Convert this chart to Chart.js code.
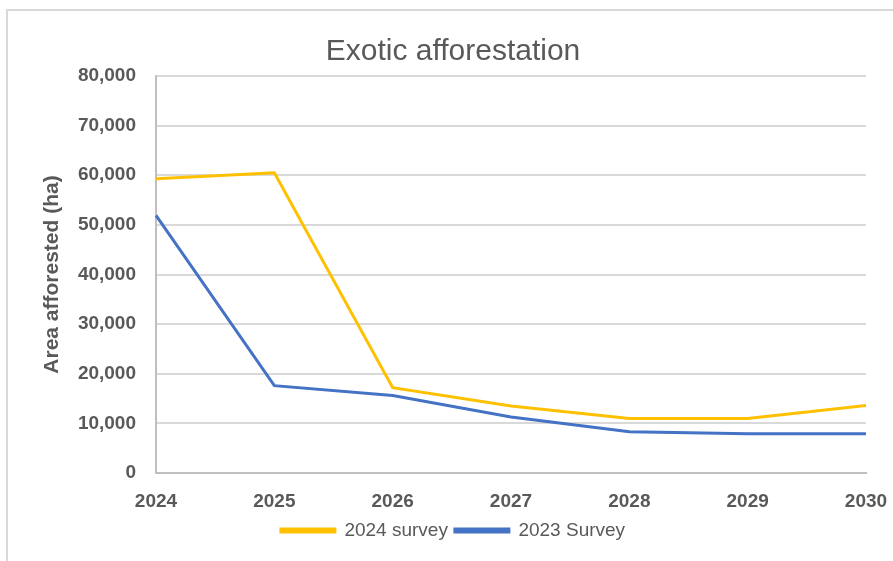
<!DOCTYPE html>
<html>
<head>
<meta charset="utf-8">
<script src="https://cdn.jsdelivr.net/npm/chart.js@4"></script>
<style>
  html, body { margin: 0; padding: 0; background: #fff; }
  #frame {
    position: absolute; left: 6px; top: 9px; width: 887px; height: 552px;
    border-top: 2px solid #d9d9d9; border-left: 2px solid #d9d9d9;
    box-sizing: border-box;
  }
  #wrap { position: absolute; left: 0; top: 0; width: 893px; height: 561px; }
</style>
</head>
<body>
<div id="frame"></div>
<div id="wrap"><canvas id="myChart"></canvas></div>
<script>
// years along the bottom
const years = ['2024', '2025', '2026', '2027', '2028', '2029', '2030'];
// area afforested (ha) for each survey
const survey2024 = [59300, 60500, 17200, 13500, 11000, 11000, 13600];
const survey2023 = [51900, 17600, 15600, 11300, 8300, 7900, 7900];

const FONT = "'Liberation Sans Narrow', 'Arial Narrow', 'Liberation Sans', sans-serif";
const GREY = '#595959';

const ctx = document.querySelector('#myChart').getContext('2d');

const myChart = new Chart(ctx, {
    type: 'line',
    data: {
        labels: years,
        datasets: [{
            label: '2024 survey',
            data: survey2024,
            borderColor: '#ffc000',
            backgroundColor: '#ffc000',
            borderWidth: 3,
            pointRadius: 0,
            tension: 0
        }, {
            label: '2023 Survey',
            data: survey2023,
            borderColor: '#4472c4',
            backgroundColor: '#4472c4',
            borderWidth: 3,
            pointRadius: 0,
            tension: 0
        }]
    },
    options: {
        responsive: true,
        maintainAspectRatio: false,
        animation: false,
        layout: { autoPadding: false, padding: { left: 40, right: 27, top: 34, bottom: 11 } },
        plugins: {
            title: {
                display: true,
                text: 'Exotic afforestation',
                color: GREY,
                font: { family: FONT, size: 30, weight: 'normal' },
                padding: { top: 0, bottom: 6 }
            },
            legend: {
                position: 'bottom',
                labels: {
                    color: GREY,
                    font: { family: FONT, size: 19 },
                    boxWidth: 54,
                    boxHeight: 3,
                    padding: 7
                }
            },
            tooltip: { enabled: false }
        },
        scales: {
            x: {
                grid: { display: false, drawTicks: false },
                border: { color: '#bfbfbf', width: 2 },
                ticks: {
                    color: GREY,
                    font: { family: FONT, size: 19, weight: 'bold' },
                    padding: 17,
                    maxRotation: 0
                },
                // just tall enough for the year labels; let 2030 hang past the plot edge
                afterFit: scale => {
                    scale.height = 41;
                    scale.paddingLeft = 0;
                    scale.paddingRight = 0;
                }
            },
            y: {
                min: 0,
                max: 80000,
                grid: { color: '#d9d9d9', lineWidth: 2, drawTicks: false },
                border: { color: '#bfbfbf', width: 2 },
                ticks: {
                    stepSize: 10000,
                    color: GREY,
                    font: { family: FONT, size: 19, weight: 'bold' },
                    padding: 20,
                    callback: v => v.toLocaleString('en-US')
                },
                title: {
                    display: true,
                    text: 'Area afforested (ha)',
                    color: GREY,
                    font: { family: FONT, size: 21, weight: 'bold' },
                    padding: { top: 0, bottom: 0 }
                },
                // fixed band for the axis title and tick labels
                afterFit: scale => { scale.width = 116; }
            }
        }
    }
});
</script>
</body>
</html>
